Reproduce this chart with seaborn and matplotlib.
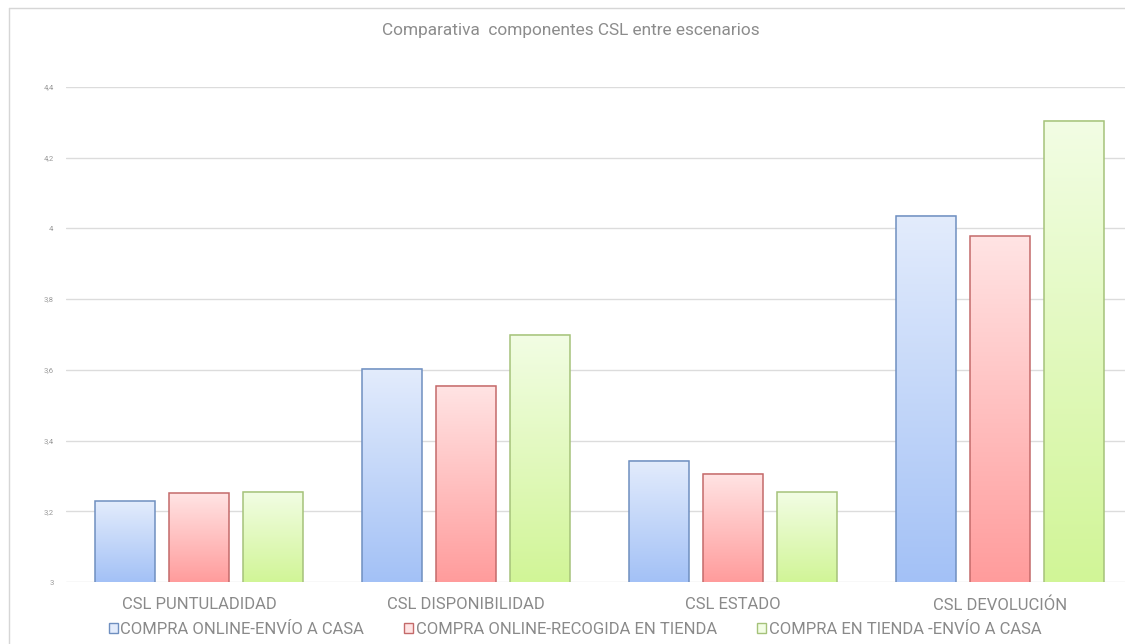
import numpy as np
import pandas as pd
import matplotlib
matplotlib.use("Agg")
import matplotlib.pyplot as plt
import seaborn as sns
from matplotlib.colors import LinearSegmentedColormap
from matplotlib.patches import Patch
from matplotlib.lines import Line2D
from matplotlib.ticker import FixedLocator, FuncFormatter

categories = ["CSL PUNTULADIDAD", "CSL DISPONIBILIDAD", "CSL ESTADO", "CSL DEVOLUCIÓN"]
series = ["COMPRA ONLINE-ENVÍO A CASA", "COMPRA ONLINE-RECOGIDA EN TIENDA", "COMPRA EN TIENDA -ENVÍO A CASA"]
online_casa = [3.228, 3.603, 3.343, 4.036]
online_tienda = [3.251, 3.555, 3.306, 3.978]
tienda_casa = [3.255, 3.699, 3.254, 4.305]
yticks = [3, 3.2, 3.4, 3.6, 3.8, 4, 4.2, 4.4]
title = "Comparativa  componentes CSL entre escenarios"

top_colors = ["#e3ecfc", "#ffe4e4", "#f2fde4"]
bottom_colors = ["#a3c1f6", "#ff9c9c", "#d1f597"]
edge_colors = ["#6f8fc0", "#c46a6a", "#a5c27a"]
mid_colors = ["#c4d7f9", "#ffc2c2", "#e3f9bf"]

df = pd.DataFrame({
    "categoria": categories * 3,
    "escenario": [series[0]] * 4 + [series[1]] * 4 + [series[2]] * 4,
    "valor": online_casa + online_tienda + tienda_casa,
})

sns.set_theme(style="white")
plt.rcParams["font.family"] = ["Roboto", "DejaVu Sans"]

fig = plt.figure(figsize=(11.25, 6.44), dpi=100)
ax = fig.add_axes([66 / 1125, 1 - 582 / 644, (1125 - 66) / 1125, (582 - 87) / 644])

sns.barplot(data=df, x="categoria", y="valor", hue="escenario",
            order=categories, hue_order=series, palette=mid_colors, saturation=1,
            width=0.831, gap=0.19, ax=ax, legend=False, zorder=3)

ymin, ymax = 3, 4.4
ax.set_ylim(ymin, ymax)
ax.set_xlim(-0.498, 3.468)

# gradient fill for each bar (visible part only)
for idx, cont in enumerate(ax.containers):
    for patch in cont.patches:
        x0, w = patch.get_x(), patch.get_width()
        y0, h = patch.get_y(), patch.get_height()
        ybot = max(y0, ymin)
        ytop = y0 + h
        cmap = LinearSegmentedColormap.from_list("g", [bottom_colors[idx], top_colors[idx]])
        grad = np.linspace(0, 1, 256).reshape(-1, 1)
        ax.imshow(grad, cmap=cmap, origin="lower", aspect="auto",
                  extent=[x0, x0 + w, ybot, ytop], zorder=3.5, interpolation="bicubic")
        patch.set_facecolor("none")
        patch.set_edgecolor(edge_colors[idx])
        patch.set_linewidth(1.1)
        patch.set_zorder(4)

ax.set_xlim(-0.498, 3.468)
ax.set_ylim(ymin, ymax)

ax.yaxis.set_major_locator(FixedLocator(yticks))
ax.yaxis.set_major_formatter(FuncFormatter(lambda v, p: f"{v:g}".replace(".", ",")))
ax.grid(axis="y", color="#dcdcdc", linewidth=1, zorder=0)
ax.grid(axis="x", visible=False)
for s in ax.spines.values():
    s.set_visible(False)
ax.tick_params(axis="y", length=0, pad=9, labelsize=5.5, labelcolor="#999999")
ax.tick_params(axis="x", length=0, pad=11, labelsize=12, labelcolor="#8a8a8a")
ax.set_xlabel("")
ax.set_ylabel("")
ax.set_facecolor("none")

fig.text(571 / 1125, 1 - 30 / 644, title, ha="center", va="center",
         fontsize=12.4, color="#8c8c8c")

handles = [Patch(facecolor=top_colors[i], edgecolor=edge_colors[i], linewidth=1) for i in range(3)]
fig.legend(handles, series, loc="center", bbox_to_anchor=(575 / 1125, 1 - 629 / 644),
           ncol=3, frameon=False, fontsize=12, labelcolor="#8a8a8a",
           handlelength=0.55, handleheight=0.55, handletextpad=0.15, columnspacing=2.4)

# outer frame (top and left edges visible)
fig.add_artist(Line2D([9 / 1125, 1.0], [1 - 8 / 644, 1 - 8 / 644], transform=fig.transFigure,
                      color="#d6d6d6", linewidth=1))
fig.add_artist(Line2D([9 / 1125, 9 / 1125], [0.0, 1 - 8 / 644], transform=fig.transFigure,
                      color="#d6d6d6", linewidth=1))

fig.savefig("out.png", dpi=100, facecolor="white")
